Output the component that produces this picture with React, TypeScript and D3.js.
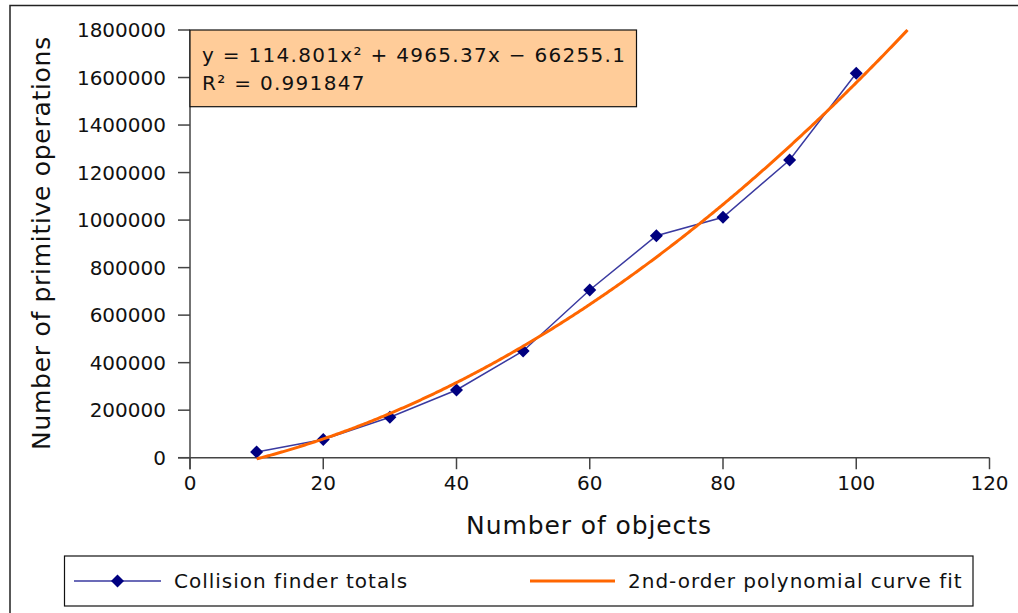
import React from "react";
import * as d3 from "d3";

// Measured collision-finder operation counts per object count
const objectCounts = [10, 20, 30, 40, 50, 60, 70, 80, 90, 100];
const operationTotals = [24000, 77000, 170000, 285000, 449000, 706000, 934000, 1012000, 1253000, 1618000];

// Quadratic trend line coefficients: y = a x² + b x + c
const fitCoefficients = [114.801, 4965.37, -66255.1];
const fitLabel = "y = 114.801x² + 4965.37x − 66255.1";
const r2Label = "R² = 0.991847";

const xTicks = [0, 20, 40, 60, 80, 100, 120];
const yTicks = [0, 200000, 400000, 600000, 800000, 1000000, 1200000, 1400000, 1600000, 1800000];

const seriesNames = ["Collision finder totals", "2nd-order polynomial curve fit"];

const FONT = "'DejaVu Sans', sans-serif";
const NAVY = "#000080";
const ORANGE = "#ff6600";

export default function App() {
  const W = 1018;
  const H = 613;
  const x = d3.scaleLinear().domain([0, 120]).range([190, 989.5]);
  const y = d3.scaleLinear().domain([0, 1800000]).range([457.7, 30]);

  const pts = objectCounts.map((n, i) => [n, operationTotals[i]] as [number, number]);
  const line = d3
    .line<[number, number]>()
    .x((d) => x(d[0]))
    .y((d) => y(d[1]));

  const [a, b, c] = fitCoefficients;
  const poly = (t: number) => a * t * t + b * t + c;
  // Sample the fitted curve until it leaves the top of the value axis
  const fitPts: [number, number][] = [];
  for (let t = objectCounts[0]; t <= 120; t += 0.25) {
    const v = poly(t);
    if (v > 1800000) {
      // solve for the exact crossing of the top edge
      const tEnd = (-b + Math.sqrt(b * b - 4 * a * (c - 1800000))) / (2 * a);
      fitPts.push([tEnd, 1800000]);
      break;
    }
    fitPts.push([t, v]);
  }

  const diamond = (cx: number, cy: number, r: number) =>
    `M${cx},${cy - r}L${cx + r},${cy}L${cx},${cy + r}L${cx - r},${cy}Z`;

  const x0 = x(0);
  const y0 = y(0);

  return (
    <svg
      width={W}
      height={H}
      style={{ position: "absolute", left: 0, top: 0, background: "#fff" }}
      fontFamily={FONT}
    >
      <rect x={0} y={0} width={W} height={H} fill="#fff" />
      {/* outer chart frame */}
      <path d={`M10,${H + 2}V5.5H${W + 2}`} fill="none" stroke="#222" strokeWidth={1.5} />

      {/* axes */}
      <line x1={x0} x2={x0} y1={y(1800000)} y2={y0 + 11.5} stroke="#444" strokeWidth={1.5} />
      <line x1={x0 - 12} x2={x(120)} y1={y0} y2={y0} stroke="#444" strokeWidth={1.5} />
      {yTicks.map((t) => (
        <g key={"y" + t}>
          <line x1={x0 - 12} x2={x0} y1={y(t)} y2={y(t)} stroke="#444" strokeWidth={1.5} />
          <text x={166} y={y(t)} dy="0.35em" textAnchor="end" fontSize={20} fill="#111">
            {t}
          </text>
        </g>
      ))}
      {xTicks.map((t) => (
        <g key={"x" + t}>
          <line x1={x(t)} x2={x(t)} y1={y0} y2={y0 + 11.5} stroke="#444" strokeWidth={1.5} />
          <text x={x(t)} y={490} textAnchor="middle" fontSize={20} fill="#111">
            {t}
          </text>
        </g>
      ))}

      {/* axis titles */}
      <text x={589} y={534} textAnchor="middle" fontSize={25} letterSpacing={0.9} fill="#111">
        Number of objects
      </text>
      <text
        transform={`translate(50,243) rotate(-90)`}
        textAnchor="middle"
        fontSize={25}
        letterSpacing={0.7}
        fill="#111"
      >
        Number of primitive operations
      </text>

      {/* data series */}
      <path d={line(pts) ?? ""} fill="none" stroke="#3a3aa0" strokeWidth={1.5} />
      {pts.map((p, i) => (
        <path key={i} d={diamond(x(p[0]), y(p[1]), 6.5)} fill={NAVY} />
      ))}

      {/* fitted curve */}
      <path d={line(fitPts) ?? ""} fill="none" stroke={ORANGE} strokeWidth={3} />

      {/* equation box */}
      <rect x={190} y={30} width={446.5} height={76.7} fill="#ffcc99" stroke="#111" strokeWidth={1.2} />
      <text x={202} y={61.7} fontSize={20} letterSpacing={1.3} fill="#111">
        {fitLabel}
      </text>
      <text x={202} y={90} fontSize={20} letterSpacing={1.3} fill="#111">
        {r2Label}
      </text>

      {/* legend */}
      <rect x={64.5} y={556} width={908.5} height={50} fill="#fff" stroke="#111" strokeWidth={1.2} />
      <line x1={74} x2={161} y1={581} y2={581} stroke="#3a3aa0" strokeWidth={1.5} />
      <path d={diamond(117.5, 581, 6.5)} fill={NAVY} />
      <text x={174} y={588} fontSize={20} letterSpacing={1} fill="#111">
        {seriesNames[0]}
      </text>
      <line x1={530} x2={615} y1={581} y2={581} stroke={ORANGE} strokeWidth={3} />
      <text x={628} y={588} fontSize={20} letterSpacing={1} fill="#111">
        {seriesNames[1]}
      </text>
    </svg>
  );
}
